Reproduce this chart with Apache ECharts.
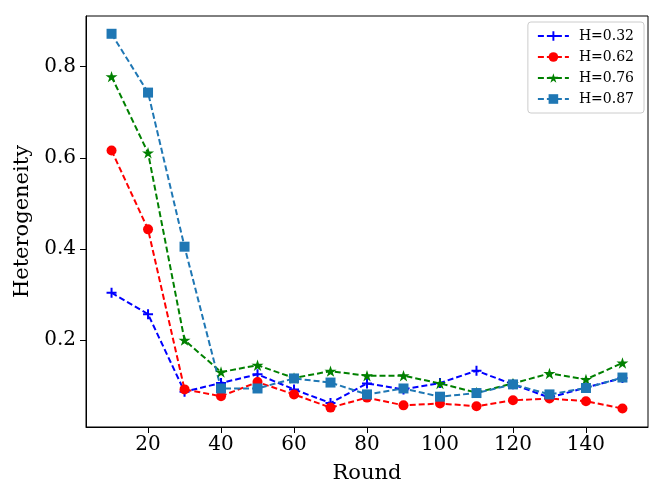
<!DOCTYPE html>
<html>
<head>
<meta charset="utf-8">
<script src="https://cdn.jsdelivr.net/npm/echarts@6/dist/echarts.min.js"></script>
<style>
  html, body { margin: 0; padding: 0; background: #fff; }
  #main { width: 664px; height: 498px; }
</style>
</head>
<body>
<div id="main"></div>
<script>
// rounds on the x axis
var rounds = [10, 20, 30, 40, 50, 60, 70, 80, 90, 100, 110, 120, 130, 140, 150];
var xTicks = [20, 40, 60, 80, 100, 120, 140];
var yTicks = [0.2, 0.4, 0.6, 0.8];

// heterogeneity values
var h032 = [0.304, 0.257, 0.087, 0.106, 0.125, 0.092, 0.062, 0.105, 0.092, 0.106, 0.133, 0.103, 0.074, 0.096, 0.117];
var h062 = [0.616, 0.443, 0.092, 0.077, 0.108, 0.081, 0.052, 0.074, 0.057, 0.061, 0.055, 0.068, 0.072, 0.066, 0.050];
var h076 = [0.778, 0.611, 0.200, 0.130, 0.145, 0.117, 0.132, 0.122, 0.122, 0.105, 0.085, 0.105, 0.127, 0.114, 0.150];
var h087 = [0.872, 0.743, 0.405, 0.094, 0.094, 0.116, 0.107, 0.081, 0.094, 0.076, 0.084, 0.103, 0.081, 0.095, 0.118];

var plusPath = 'path://M4,0H6V4H10V6H6V10H4V6H0V4H4Z';
var starPath = 'path://M0,-100L22,-31L95,-31L36,12L59,81L0,38L-59,81L-36,12L-95,-31L-22,-31Z';

function pairs(vals) {
    return rounds.map(function (r, i) { return [r, vals[i]]; });
}

function mkSeries(name, vals, color, symbol, size) {
    return {
        name: name,
        type: 'line',
        data: pairs(vals),
        symbol: symbol,
        symbolSize: size,
        symbolKeepAspect: true,
        showAllSymbol: true,
        itemStyle: { color: color },
        lineStyle: { color: color, width: 2, type: [6, 3] },
        animation: false
    };
}

var serif = 'DejaVu Serif';
var chart = echarts.init(document.getElementById('main'));

var option = {
    backgroundColor: '#fff',
    textStyle: { fontFamily: serif },
    grid: {
        left: 86, right: 16, top: 16, bottom: 71,
        show: true, borderColor: '#000', borderWidth: 1
    },
    legend: {
        orient: 'vertical',
        right: 20, top: 22,
        itemWidth: 31, itemHeight: 12, itemGap: 7,
        padding: [7, 10, 7, 9],
        borderColor: '#ccc', borderWidth: 1, borderRadius: 3,
        textStyle: { fontFamily: serif, fontSize: 14, color: '#000', padding: [0, 0, 0, 5] },
        data: ['H=0.32', 'H=0.62', 'H=0.76', 'H=0.87']
    },
    xAxis: {
        type: 'value',
        min: 3, max: 157,
        name: 'Round',
        nameLocation: 'middle',
        nameGap: 36,
        nameTextStyle: { fontFamily: serif, fontSize: 21, color: '#000' },
        splitLine: { show: false },
        axisLine: { lineStyle: { color: '#000', width: 1 } },
        axisTick: { show: true, length: 6, customValues: xTicks, lineStyle: { color: '#000' } },
        axisLabel: { customValues: xTicks, fontFamily: serif, fontSize: 20, color: '#000', margin: 8 }
    },
    yAxis: {
        type: 'value',
        min: 0.0095, max: 0.911,
        name: 'Heterogeneity',
        nameLocation: 'middle',
        nameGap: 52,
        nameTextStyle: { fontFamily: serif, fontSize: 21, color: '#000' },
        splitLine: { show: false },
        axisLine: { show: true, lineStyle: { color: '#000', width: 1 } },
        axisTick: { show: true, length: 6, customValues: yTicks, lineStyle: { color: '#000' } },
        axisLabel: { customValues: yTicks, fontFamily: serif, fontSize: 20, color: '#000', margin: 10,
            formatter: function (v) { return v.toFixed(1); } }
    },
    series: [
        mkSeries('H=0.32', h032, '#0000ff', plusPath, 10),
        mkSeries('H=0.62', h062, '#ff0000', 'circle', 10),
        mkSeries('H=0.76', h076, '#008000', starPath, 12),
        mkSeries('H=0.87', h087, '#1f77b4', 'rect', 10)
    ]
};

chart.setOption(option);
</script>
</body>
</html>
